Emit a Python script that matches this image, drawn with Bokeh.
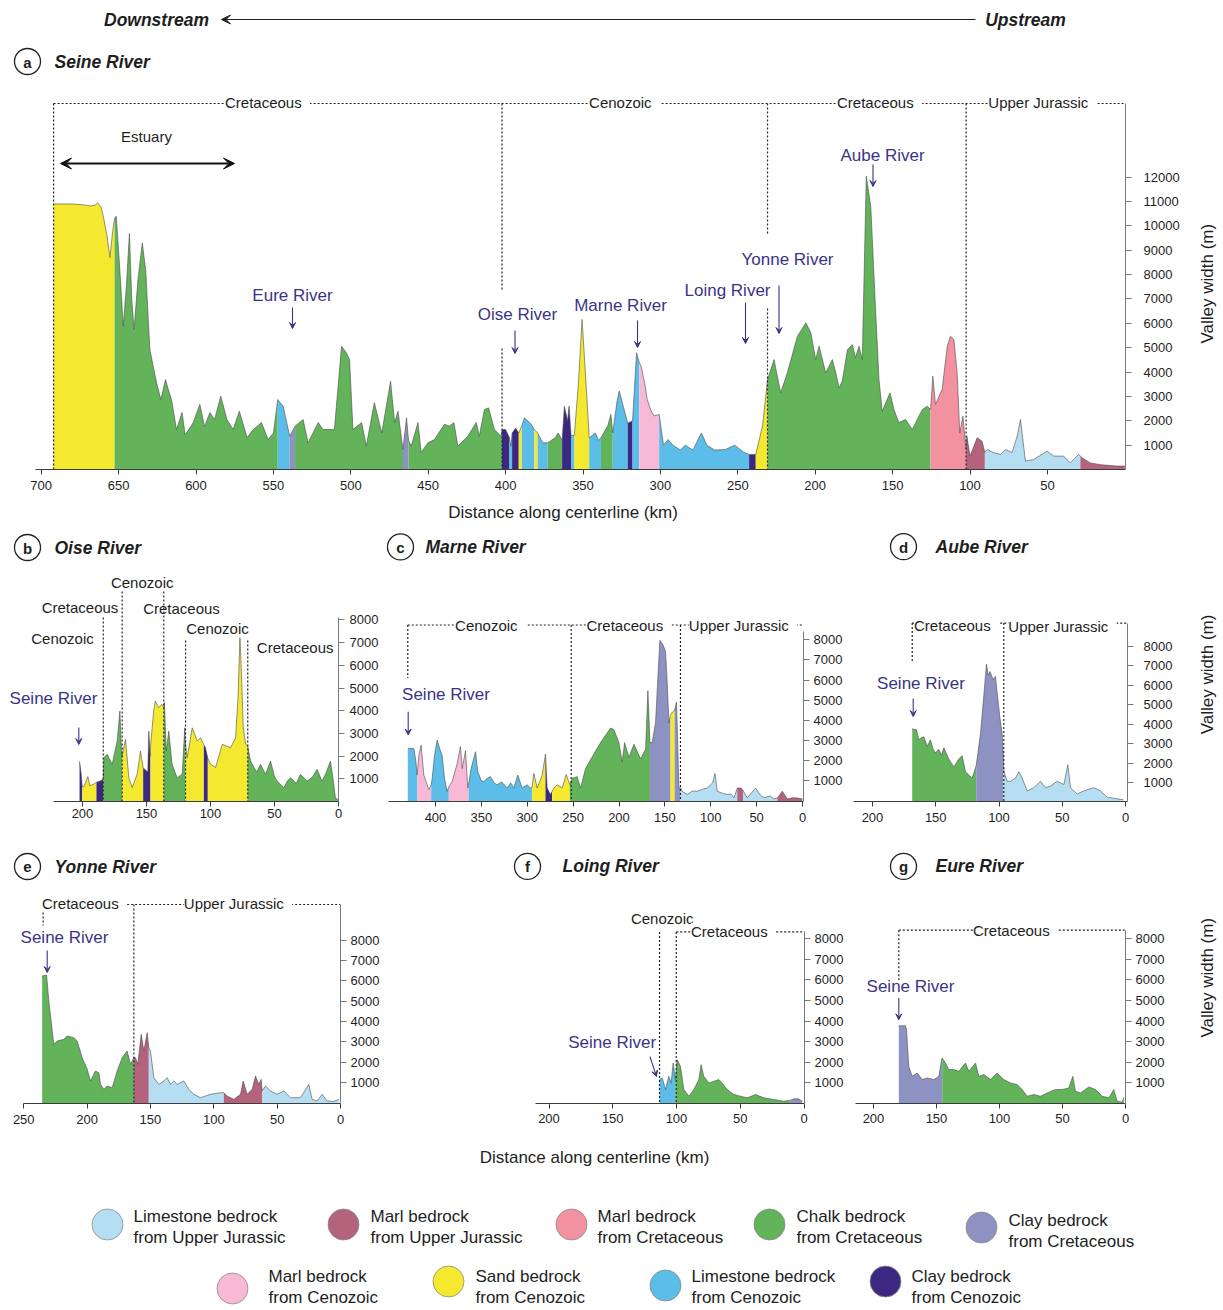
import numpy as np
from bokeh.plotting import figure
from bokeh.models import Range1d, FixedTicker, Label, Arrow, VeeHead, LinearAxis
from bokeh.layouts import column, row
from bokeh.embed import file_html
from bokeh.resources import INLINE

FONT = "Liberation Sans"
INK = "#1e1e1e"
RIVER_INK = "#3b3486"

# ---------------- bedrock classes / legend ----------------
rock_codes = ["LJ", "MJ", "MK", "CHK", "CLK", "MC", "SC", "LC", "CC"]
rock_colors = ["#b5def3", "#b3637b", "#f2919f", "#62b35a", "#8e92c2",
               "#f7b9d6", "#f5e92f", "#5bbde8", "#3b2881"]
legend_line1 = ["Limestone bedrock", "Marl bedrock", "Marl bedrock", "Chalk bedrock", "Clay bedrock",
                "Marl bedrock", "Sand bedrock", "Limestone bedrock", "Clay bedrock"]
legend_line2 = ["from Upper Jurassic", "from Upper Jurassic", "from Cretaceous", "from Cretaceous",
                "from Cretaceous", "from Cenozoic", "from Cenozoic", "from Cenozoic", "from Cenozoic"]
COLOR = dict(zip(rock_codes, rock_colors))

# ---------------- (a) Seine River ----------------
seine_km = [692.0, 680.0, 672.0, 668.0, 665.0, 663.5, 661.5, 659.9, 657.5, 655.6, 653.8, 652.6, 651.5, 649.0,
            647.0, 645.0, 643.0, 641.5, 640.0, 637.5, 634.7, 632.5, 629.8, 627.5, 625.5, 622.7, 619.7, 617.5,
            615.8, 612.6, 609.0, 607.0, 604.0, 601.8, 597.5, 594.5, 591.0, 588.0, 584.0, 580.0, 576.0, 572.0,
            567.0, 563.0, 557.7, 553.4, 550.0, 547.2, 543.7, 539.5, 536.0, 530.8, 527.6, 521.0, 518.0, 510.6,
            506.0, 503.0, 500.8, 498.6, 493.0, 490.0, 484.8, 480.0, 474.3, 471.7, 469.5, 466.3, 464.0, 462.7,
            461.0, 456.6, 454.5, 450.2, 446.0, 439.5, 436.3, 433.4, 430.8, 426.6, 424.4, 419.0, 417.0, 413.7,
            411.0, 407.2, 403.0, 402.3, 400.0, 397.5, 396.5, 395.8, 393.5, 391.5, 389.5, 387.8, 384.0, 381.4,
            379.3, 376.0, 372.8, 368.0, 366.0, 363.5, 362.0, 360.0, 359.0, 357.7, 355.6, 353.0, 350.6, 348.0,
            346.0, 342.0, 340.0, 338.4, 334.0, 332.0, 330.8, 328.0, 326.6, 324.0, 321.1, 318.0, 315.4, 313.7,
            312.5, 310.0, 308.5, 306.0, 304.0, 300.8, 298.0, 295.0, 292.0, 287.0, 284.0, 279.0, 273.5, 270.0,
            265.0, 258.0, 252.0, 246.0, 242.7, 238.4, 234.0, 230.8, 226.6, 222.3, 218.0, 211.5, 206.0, 202.8,
            199.7, 197.5, 193.2, 188.9, 186.7, 184.6, 182.5, 179.2, 176.0, 174.0, 171.7, 169.6, 167.0, 164.1,
            161.0, 158.8, 156.7, 151.7, 149.1, 146.0, 141.6, 137.3, 133.0, 130.8, 127.6, 125.5, 124.0, 122.3,
            118.0, 114.7, 112.6, 110.4, 108.3, 106.6, 104.6, 102.5, 102.0, 100.0, 95.4, 92.2, 90.4, 88.9,
            84.6, 80.3, 77.1, 72.8, 69.5, 67.4, 64.2, 58.8, 50.2, 45.9, 39.5, 35.2, 29.8, 27.6, 22.3, 15.8,
            5.0, 0.0]
seine_w = [10900, 10900, 10860, 10820, 10860, 10950, 10800, 10400, 9600, 8700, 9800, 10300, 10400, 8000,
           5880, 7500, 9690, 7000, 5750, 7800, 9300, 8200, 4925, 4200, 3570, 2870, 3695, 3200,
           2870, 1640, 2340, 1440, 1700, 1930, 2670, 1770, 2340, 2050, 3010, 2050, 1640, 2390,
           1310, 1640, 1930, 1230, 1500, 2870, 2600, 1370, 1780, 2050, 1100, 1930, 1640, 1640,
           5060, 4800, 4515, 1640, 1930, 960, 2740, 1500, 3625, 1930, 2390, 820, 2120, 1200,
           960, 1930, 700, 1100, 1230, 1860, 1780, 1930, 960, 1230, 1370, 1930, 1370, 2460,
           2530, 1640, 1370, 1640, 1640, 1300, 960, 1500, 1700, 1500, 1800, 2120, 1900, 1640,
           1500, 1100, 1100, 1300, 1500, 1200, 2600, 2000, 2600, 1400, 1400, 3500, 6160, 3500,
           1300, 1500, 1200, 1300, 1800, 2260, 1500, 2800, 3220, 2600, 1900, 2000, 4790, 4400,
           4240, 3500, 2870, 2400, 2200, 2260, 1000, 1230, 1000, 800, 1000, 800, 1500, 1000,
           800, 820, 1000, 700, 620, 620, 1800, 3690, 4515, 3150, 3970, 5470, 6020, 5610,
           4515, 5060, 3970, 4515, 3970, 3350, 3630, 4920, 5130, 4590, 5060, 4515, 12040, 10810,
           6570, 3700, 2390, 3150, 2460, 1930, 2050, 1640, 2190, 2460, 2600, 2460, 3830, 2670,
           3290, 5060, 5470, 5340, 3970, 1500, 2190, 820, 1370, 550, 1300, 1160, 700, 820,
           690, 620, 820, 700, 1370, 2050, 340, 410, 750, 550, 550, 270, 620, 480, 270, 200,
           140, 140]
seine_breaks = [692.0, 652.6, 547.2, 539.5, 536.0, 466.3, 462.7, 402.3, 397.5, 395.8, 391.5, 389.5, 381.4,
                379.3, 372.8, 363.5, 357.7, 355.6, 346.0, 338.4, 330.8, 321.1, 318.0, 313.7, 300.8, 242.7,
                238.4, 230.8, 125.5, 102.5, 90.4, 28.7, 0.0]
seine_rocks = ["SC", "CHK", "LC", "CLK", "CHK", "CLK", "CHK", "CC", "LC", "CC", "SC", "LC", "SC", "LC",
               "CHK", "CC", "LC", "SC", "LC", "CHK", "LC", "CC", "LC", "MC", "LC", "CC", "SC", "CHK",
               "MK", "MJ", "LJ", "MJ"]
seine_era_km = [692.0, 402.3, 230.8, 102.5]

# ---------------- (b) Oise River ----------------
oise_km = [202.3, 201.0, 200.2, 198.9, 195.8, 194.3, 191.7, 189.1, 186.3, 184.6, 183.8, 183.3, 180.7, 176.8,
           172.9, 170.8, 169.6, 169.0, 166.4, 163.8, 161.2, 157.3, 154.7, 152.6, 151.0, 149.0, 148.2, 147.2,
           146.9, 144.4, 143.1, 140.5, 137.9, 136.5, 136.0, 134.6, 132.6, 130.0, 126.1, 122.1, 120.1, 119.5,
           118.2, 114.3, 110.4, 107.8, 105.2, 103.9, 102.1, 99.9, 96.0, 90.8, 84.3, 80.4, 78.5, 77.0, 75.9,
           74.4, 72.5, 70.9, 68.7, 64.0, 60.9, 57.0, 53.1, 50.0, 47.9, 42.7, 40.0, 37.5, 33.0, 29.7, 24.5,
           20.0, 16.7, 13.0, 10.2, 6.3, 4.0, 2.4, 0.5]
oise_w = [1780, 1200, 650, 650, 1100, 700, 750, 850, 900, 950, 1000, 1930, 2080, 1640,
          2670, 3990, 2220, 2000, 2740, 1050, 610, 1200, 2220, 1490, 1400, 1300, 3100, 2000,
          2400, 3990, 4430, 4140, 4280, 4140, 4360, 2220, 3100, 1640, 1050, 1200, 3250, 2500,
          1930, 3250, 2670, 2810, 2500, 2370, 1900, 1640, 1500, 2520, 2370, 2810, 4580, 7220, 5760,
          3250, 2520, 2450, 1780, 1300, 1640, 1200, 1780, 1100, 900, 610, 900, 1050, 800, 1200, 900,
          1100, 1420, 900, 1200, 1780, 900, 140, 100]
oise_breaks = [202.3, 200.2, 189.1, 183.8, 169.0, 152.6, 146.9, 136.5, 119.5, 105.2, 102.1, 70.9, 0.5]
oise_rocks = ["CC", "SC", "CC", "CHK", "SC", "CC", "SC", "CHK", "SC", "CC", "SC", "CHK"]
oise_era_km = [183.8, 169.0, 136.5, 119.5, 70.9]

# ---------------- (c) Marne River ----------------
marne_km = [430.2, 423.6, 421.5, 420.0, 418.2, 415.7, 412.7, 407.3, 404.7, 403.6, 401.1, 398.2, 395.3, 392.7,
            390.2, 387.3, 385.5, 381.8, 376.4, 372.8, 370.9, 367.3, 364.8, 363.7, 361.2, 356.4, 353.9, 350.0,
            347.3, 343.0, 340.1, 336.0, 332.8, 328.0, 321.9, 318.0, 314.6, 310.3, 305.6, 300.1, 296.5, 294.7,
            292.8, 289.2, 283.8, 280.1, 278.3, 274.7, 271.0, 267.4, 261.9, 257.6, 253.6, 251.0, 245.6, 241.9,
            236.5, 227.4, 220.1, 209.2, 205.6, 200.1, 196.5, 193.9, 189.2, 183.7, 176.5, 171.0, 168.5, 166.3,
            163.8, 160.2, 157.6, 155.4, 151.8, 149.2, 147.4, 145.6, 143.8, 141.5, 139.4, 137.3, 134.7, 132.9,
            131.1, 125.6, 120.0, 114.7, 108.0, 103.8, 98.0, 95.4, 92.9, 88.0, 82.0, 78.0, 74.7, 71.0, 67.0,
            64.5, 60.2, 51.1, 46.0, 42.0, 35.0, 31.1, 27.4, 22.0, 16.5, 11.1, 5.0, 0.2]
marne_w = [2610, 2610, 2000, 1300, 2254, 2770, 1288, 564, 800, 1127, 2254, 3027, 2577, 2254,
           1127, 483, 700, 966, 1852, 2705, 1610, 2496, 644, 900, 1610, 2448, 1449, 1000,
           966, 1150, 1208, 900, 805, 950, 644, 900, 644, 1288, 644, 805, 644, 700,
           1369, 644, 1288, 2335, 644, 322, 644, 805, 644, 1320, 805, 1127, 1208, 644,
           1610, 2335, 2899, 3623, 3543, 2899, 1932, 2899, 2174, 2818, 2093, 2576, 5475, 2899,
           2899, 3865, 6119, 7971, 7729, 7407, 5797, 3865, 4300, 4428, 4500, 4911, 644, 644,
           483, 322, 500, 483, 600, 644, 900, 1369, 483, 400, 322, 350, 161, 644, 644,
           500, 161, 644, 300, 161, 250, 100, 150, 483, 100, 161, 150, 100]
marne_breaks = [430.2, 420.0, 404.7, 385.5, 363.9, 294.7, 280.1, 272.9, 253.6, 166.3, 143.8, 139.4, 133.0,
                71.1, 64.5, 27.4, 0.2]
marne_rocks = ["LC", "MC", "LC", "MC", "LC", "SC", "CC", "SC", "CHK", "CLK", "SC", "CLK", "LJ", "MJ", "LJ", "MJ"]
marne_era_km = [430.2, 252.1, 133.0]

# ---------------- (d) Aube River ----------------
aube_km = [168.6, 165.2, 163.4, 161.5, 159.4, 156.8, 154.2, 152.0, 150.2, 147.6, 145.5, 143.6, 139.7, 135.7,
           131.8, 129.1, 126.5, 121.2, 118.0, 117.3, 114.6, 112.0, 109.9, 108.5, 107.2, 104.6, 102.8, 101.5,
           99.3, 97.5, 96.7, 96.2, 93.5, 90.9, 87.0, 84.3, 81.7, 77.7, 72.5, 67.2, 63.2, 59.3, 54.0, 48.7,
           45.6, 43.5, 38.2, 32.9, 25.0, 19.8, 14.5, 6.6, 1.8]
aube_w = [3760, 3710, 3190, 3300, 3350, 2860, 3190, 2700, 2530, 2700, 2400, 2780, 2210, 1800,
          2210, 2370, 1550, 1225, 1880, 2210, 3513, 5474, 7075, 6500, 6699, 6291, 6454, 5637,
          4330, 3513, 2500, 1552, 1062, 1062, 1225, 1552, 1225, 572, 735, 1062, 735, 817, 1062, 899,
          1912, 735, 408, 572, 735, 572, 245, 163, 114]
aube_breaks = [168.6, 118.0, 96.7, 1.8]
aube_rocks = ["CHK", "CLK", "LJ"]
aube_era_km = [168.6, 96.2]

# ---------------- (e) Yonne River ----------------
yonne_km = [235.5, 232.0, 230.2, 226.3, 223.6, 218.4, 215.7, 210.5, 207.8, 203.9, 199.9, 197.3, 193.4, 190.7,
            189.4, 186.8, 184.2, 180.2, 176.3, 172.3, 168.4, 165.7, 163.1, 161.8, 160.0, 157.3, 155.2, 152.6,
            151.3, 150.0, 147.3, 143.4, 139.4, 136.8, 134.2, 131.5, 128.9, 123.7, 119.7, 115.8, 110.5, 102.6,
            94.7, 92.1, 89.5, 84.2, 78.9, 76.8, 73.7, 69.7, 67.1, 64.5, 62.6, 61.8, 59.2, 55.2, 50.0, 44.7,
            39.5, 31.6, 25.0, 22.4, 18.4, 14.5, 10.5, 5.3, 1.3]
yonne_w = [6244, 6293, 5015, 2884, 3048, 3130, 3294, 3212, 3048, 2229, 1655, 1082, 1573, 1491,
           918, 672, 836, 754, 1573, 2229, 2557, 1901, 2229, 2229, 1901, 3376, 2557, 3458,
           2721, 2557, 1246, 918, 1082, 1246, 918, 1082, 918, 1082, 672, 426, 262, 426,
           508, 500, 344, 180, 426, 1082, 426, 672, 1327, 918, 1163, 590, 836, 590, 426, 590,
           262, 262, 918, 180, 98, 426, 98, 80, 180]
yonne_breaks = [235.5, 163.1, 151.3, 92.1, 61.8, 1.3]
yonne_rocks = ["CHK", "MJ", "LJ", "MJ", "LJ"]
yonne_era_km = [234.7, 163.1]

# ---------------- (f) Loing River ----------------
loing_km = [113.3, 111.2, 108.6, 106.0, 104.2, 102.6, 100.8, 99.5, 96.9, 94.2, 90.3, 86.4, 82.5, 80.7, 78.6,
            74.6, 70.7, 66.8, 64.2, 60.3, 55.0, 49.8, 44.6, 38.0, 31.5, 23.7, 15.8, 10.6, 8.0, 4.1, 1.4]
loing_w = [1159, 1240, 676, 1320, 998, 1965, 1159, 2126, 1803, 676, 354, 676, 1159, 1884, 1320,
           998, 1079, 1159, 998, 676, 435, 354, 274, 435, 274, 193, 113, 161, 225, 225, 113]
loing_breaks = [113.3, 100.8, 10.6, 1.4]
loing_rocks = ["LC", "CHK", "CLK"]
loing_era_km = [113.3, 100.2]

# ---------------- (g) Eure River ----------------
eure_km = [179.9, 174.6, 173.8, 172.0, 169.3, 165.3, 161.4, 157.4, 152.1, 148.1, 146.0, 145.5, 142.9, 140.2,
           136.2, 132.3, 127.0, 124.3, 119.0, 116.4, 112.4, 107.1, 101.9, 96.6, 91.3, 86.0, 82.0, 78.0, 72.8,
           67.5, 62.2, 55.6, 50.3, 45.0, 41.8, 39.7, 35.7, 29.1, 23.8, 18.5, 13.2, 9.3, 6.6, 2.6, 1.3]
eure_w = [3768, 3768, 3575, 1803, 1320, 1481, 1159, 1240, 1159, 1320, 2126, 2206, 1965, 1643,
          1643, 1562, 1965, 1562, 1965, 1320, 1401, 1159, 1481, 1159, 998, 918, 676, 354, 435,
          354, 515, 676, 676, 757, 1320, 596, 515, 805, 676, 354, 274, 676, 113, 60, 300]
eure_breaks = [179.9, 145.5, 1.3]
eure_rocks = ["CLK", "CHK"]
eure_era_km = [179.9]

ticks_a_x = [700, 650, 600, 550, 500, 450, 400, 350, 300, 250, 200, 150, 100, 50]
ticks_a_y = [1000, 2000, 3000, 4000, 5000, 6000, 7000, 8000, 9000, 10000, 11000, 12000]
ticks_small_y = [1000, 2000, 3000, 4000, 5000, 6000, 7000, 8000]
ticks_200_x = [200, 150, 100, 50, 0]
ticks_250_x = [250, 200, 150, 100, 50, 0]
ticks_400_x = [400, 350, 300, 250, 200, 150, 100, 50, 0]


# ---------------- helpers ----------------
class Panel:
    """Maps picture pixels to data units of one panel (km reversed, width in m)."""
    def __init__(self, fig_box, frame_box, px0, ppk, py0, ppm):
        self.fig_box = fig_box
        self.frame = frame_box
        self.px0, self.ppk, self.py0, self.ppm = px0, ppk, py0, ppm

    def kx(self, px):
        return (self.px0 - px) / self.ppk

    def wy(self, py):
        return (self.py0 - py) / self.ppm


def make_fig(P, xticks, yticks, x_left_px, y_top_py, xstand, ystand, tick_font="13px"):
    X0, Y0, W, H = P.fig_box
    fl, ft, fr, fb = P.frame
    p = figure(width=W, height=H,
               x_range=Range1d(P.kx(fl), P.kx(fr)), y_range=Range1d(P.wy(fb), P.wy(ft)),
               output_backend="svg", toolbar_location=None, y_axis_location="right", title=None,
               min_border_left=fl - X0, min_border_top=ft - Y0,
               min_border_right=X0 + W - fr, min_border_bottom=Y0 + H - fb)
    p.xgrid.visible = False
    p.ygrid.visible = False
    p.outline_line_color = None
    p.background_fill_color = "white"
    p.border_fill_color = "white"
    xa = p.xaxis[0]
    xa.ticker = FixedTicker(ticks=xticks)
    xa.bounds = (P.kx(x_left_px), P.kx(fr))
    xa.axis_line_color = "#3c3c3c"
    xa.major_tick_line_color = "#3c3c3c"
    xa.major_tick_out = 5
    xa.major_tick_in = 0
    xa.minor_tick_line_color = None
    xa.major_label_text_font = FONT
    xa.major_label_text_font_size = tick_font
    xa.major_label_text_color = INK
    xa.major_label_standoff = xstand
    ya = p.yaxis[0]
    ya.ticker = FixedTicker(ticks=yticks)
    ya.bounds = (0, P.wy(y_top_py))
    ya.axis_line_color = "#7a7a7a"
    ya.major_tick_line_color = "#7a7a7a"
    ya.major_tick_out = 6
    ya.major_tick_in = 0
    ya.minor_tick_line_color = None
    ya.major_label_text_font = FONT
    ya.major_label_text_font_size = tick_font
    ya.major_label_text_color = INK
    ya.major_label_standoff = ystand
    return p


def add_x_title(p, P, txt, px_lo, px_hi, standoff):
    ax = LinearAxis(ticker=FixedTicker(ticks=[]), axis_label=txt, axis_label_standoff=standoff,
                    axis_label_text_font=FONT, axis_label_text_font_size="17px",
                    axis_label_text_font_style="normal", axis_label_text_color=INK,
                    axis_line_color=None, major_tick_line_color=None, minor_tick_line_color=None,
                    major_label_text_font_size="0px", major_tick_out=0, major_tick_in=0,
                    major_label_standoff=0)
    ax.bounds = (P.kx(px_lo), P.kx(px_hi))
    p.add_layout(ax, "below")


def strip(x0, y0, w, h, py_center, txt):
    s = figure(width=w, height=h, x_range=Range1d(x0, x0 + w), y_range=Range1d(y0 + h, y0),
               output_backend="svg", toolbar_location=None, x_axis_location=None, y_axis_location=None,
               min_border=0, title=None)
    for g in s.grid:
        g.visible = False
    s.outline_line_color = None
    s.add_layout(Label(x=1207, y=py_center, text=txt, angle=np.pi / 2, text_font=FONT,
                       text_font_size="17px", text_color=INK, text_align="center", text_baseline="middle"))
    return s


def draw_profile(p, km, w, breaks, rocks):
    km = np.asarray(km, float)
    w = np.asarray(w, float)
    order = np.argsort(km)
    ks, ws = km[order], w[order]
    for s, e, r in zip(breaks[:-1], breaks[1:], rocks):
        lo, hi = min(s, e), max(s, e)
        mask = (ks > lo) & (ks < hi)
        xs = np.concatenate([[lo], ks[mask], [hi]])
        ys = np.interp(xs, ks, ws)
        p.varea(x=xs, y1=np.zeros_like(xs), y2=ys, fill_color=COLOR[r], fill_alpha=1.0)
    p.line(km, w, line_color="#4a4a4a", line_width=0.7, line_alpha=0.85)


def vline(p, P, km, py_top, py_bot):
    p.segment(x0=[km], y0=[P.wy(py_top)], x1=[km], y1=[P.wy(py_bot)],
              line_color="#222222", line_width=1.2, line_dash="2 2")


def hline(p, P, km_left, px_right, py):
    p.segment(x0=[km_left], y0=[P.wy(py)], x1=[P.kx(px_right)], y1=[P.wy(py)],
              line_color="#222222", line_width=1.2, line_dash="2 2")


def text(p, P, px, py, txt, size="15px", color=INK, style="normal", align="center", bg=None, angle=0.0):
    lab = Label(x=P.kx(px), y=P.wy(py), text=txt, text_font=FONT, text_font_size=size,
                text_color=color, text_font_style=style, text_align=align, text_baseline="middle",
                angle=angle)
    if bg is not None:
        lab.background_fill_color = bg
    p.add_layout(lab)


def arrow(p, P, px1, py1, px2, py2, color=RIVER_INK, size=7, width=1.1, both=False):
    head = VeeHead(size=size, fill_color=color, line_color=color, line_width=1)
    kw = dict(x_start=P.kx(px1), y_start=P.wy(py1), x_end=P.kx(px2), y_end=P.wy(py2),
              end=head, line_color=color, line_width=width)
    if both:
        kw["start"] = VeeHead(size=size, fill_color=color, line_color=color, line_width=1)
    p.add_layout(Arrow(**kw))


def badge(p, P, px, py, letter, title, title_left):
    p.scatter(x=[P.kx(px)], y=[P.wy(py)], marker="circle", size=26, fill_color="white",
              line_color="#222222", line_width=1.3)
    text(p, P, px, py + 0.5, letter, size="15px", style="bold")
    text(p, P, title_left, py, title, size="17.5px", style="bold italic", align="left")


# ---------------- panel (a) ----------------
PA = Panel((0, 0, 1195, 530), (0, 0, 1125, 469), 1124.3, 1.548, 469, 0.02436)
pa = make_fig(PA, ticks_a_x, ticks_a_y, 35, 103, 6, 12)
draw_profile(pa, seine_km, seine_w, seine_breaks, seine_rocks)
hline(pa, PA, seine_era_km[0], 1125, 103)
vline(pa, PA, seine_era_km[0], 103, 469)
vline(pa, PA, seine_era_km[1], 103, 290)
vline(pa, PA, seine_era_km[1], 348, 469)
vline(pa, PA, seine_era_km[2], 103, 235)
vline(pa, PA, seine_era_km[2], 308, 469)
vline(pa, PA, seine_era_km[3], 103, 469)
for t, cx in [(" Cretaceous ", 267), (" Cenozoic ", 624), (" Cretaceous ", 879), (" Upper Jurassic ", 1042)]:
    text(pa, PA, cx, 102, t, bg="white")
text(pa, PA, 156, 19, "Downstream", size="17.5px", style="bold italic")
text(pa, PA, 1025, 19, "Upstream", size="17.5px", style="bold italic")
arrow(pa, PA, 975, 19, 221, 19, color="#222222", size=9, width=1.1)
badge(pa, PA, 27, 61, "a", "Seine River", 54)
text(pa, PA, 146, 136, "Estuary")
arrow(pa, PA, 60, 163, 234, 163, color="#111111", size=11, width=1.8, both=True)
for t, cx, cy, ax, ay1, ay2 in [("Eure River", 292, 295, 292, 307, 328),
                                 ("Oise River", 517, 314, 514.5, 330, 353),
                                 ("Marne River", 620, 305, 637, 320, 347),
                                 ("Loing River", 727, 290, 745, 302, 343),
                                 ("Yonne River", 787, 259, 778.5, 285, 333),
                                 ("Aube River", 882, 155, 872.5, 164, 186)]:
    text(pa, PA, cx, cy, t, size="17px", color=RIVER_INK)
    arrow(pa, PA, ax, ay1, ax, ay2, size=6)
add_x_title(pa, PA, "Distance along centerline (km)", 35, 1103, 10)
sa = strip(1195, 0, 28, 530, 320, "Valley width (m)")

# ---------------- panel (b) ----------------
PB = Panel((0, 530, 384, 320), (0, 530, 338, 801), 338, 1.28, 801, 0.0227)
pb = make_fig(PB, ticks_200_x, ticks_small_y, 53, 617, 2, 5)
draw_profile(pb, oise_km, oise_w, oise_breaks, oise_rocks)
for k, top in zip(oise_era_km, [617, 591, 591, 640, 640]):
    vline(pb, PB, k, top, 801)
for t, cx, cy in [("Cenozoic", 62, 638), ("Cretaceous", 79.5, 607), ("Cenozoic", 141.7, 582),
                  ("Cretaceous", 181, 608), ("Cenozoic", 217, 628), ("Cretaceous", 294.7, 647)]:
    text(pb, PB, cx, cy, t)
badge(pb, PB, 27, 547, "b", "Oise River", 54)
text(pb, PB, 53, 698, "Seine River", size="17px", color=RIVER_INK)
arrow(pb, PB, 78.3, 727, 78.3, 744, size=6)

# ---------------- panel (c) ----------------
PC = Panel((384, 530, 464, 320), (384, 530, 803, 811), 802, 0.9175, 810.5, 0.0209)
pc = make_fig(PC, ticks_400_x, ticks_small_y, 388, 635, 6, 4)
draw_profile(pc, marne_km, marne_w, marne_breaks, marne_rocks)
hline(pc, PC, marne_era_km[0], 803, 628)
vline(pc, PC, marne_era_km[0], 628, 683)
vline(pc, PC, marne_era_km[1], 628, 811)
vline(pc, PC, marne_era_km[2], 628, 811)
for t, cx in [(" Cenozoic ", 490), (" Cretaceous ", 628.5), (" Upper Jurassic ", 742.5)]:
    text(pc, PC, cx, 628, t, bg="white")
badge(pc, PC, 400, 547, "c", "Marne River", 425)
text(pc, PC, 445.5, 700, "Seine River", size="17px", color=RIVER_INK)
arrow(pc, PC, 407.7, 718, 407.7, 742, size=6)

# ---------------- panel (d) ----------------
PD = Panel((848, 530, 347, 320), (848, 530, 1127, 814), 1125, 1.265, 814.5, 0.0204)
pd = make_fig(PD, ticks_200_x, ticks_small_y, 853, 627, 6, 10)
draw_profile(pd, aube_km, aube_w, aube_breaks, aube_rocks)
hline(pd, PD, aube_era_km[0], 1127, 627)
vline(pd, PD, aube_era_km[0], 627, 667)
vline(pd, PD, aube_era_km[1], 627, 814)
text(pd, PD, 956, 630, " Cretaceous ", bg="white")
text(pd, PD, 1062, 630.5, " Upper Jurassic ", bg="white")
badge(pd, PD, 903, 547, "d", "Aube River", 935)
text(pd, PD, 920.5, 690, "Seine River", size="17px", color=RIVER_INK)
arrow(pd, PD, 912.7, 706, 912.7, 725, size=6)
sd = strip(1195, 530, 28, 320, 700, "Valley width (m)")

# ---------------- panel (e) ----------------
PE = Panel((0, 850, 384, 322), (0, 850, 340, 1103), 340, 1.267, 1102.5, 0.02034)
pe = make_fig(PE, ticks_250_x, ticks_small_y, 23, 904, 6, 4)
draw_profile(pe, yonne_km, yonne_w, yonne_breaks, yonne_rocks)
hline(pe, PE, yonne_era_km[0], 340, 904)
vline(pe, PE, yonne_era_km[0], 904, 925)
vline(pe, PE, yonne_era_km[1], 904, 1103)
text(pe, PE, 84, 903, " Cretaceous ", bg="white")
text(pe, PE, 237.5, 903, " Upper Jurassic ", bg="white")
badge(pe, PE, 27, 866, "e", "Yonne River", 54)
text(pe, PE, 64, 937, "Seine River", size="17px", color=RIVER_INK)
arrow(pe, PE, 46.7, 950, 46.7, 972, size=6)

# ---------------- panel (f) ----------------
PF = Panel((384, 850, 464, 322), (384, 850, 804, 1104), 803.5, 1.275, 1104, 0.0207)
pf = make_fig(PF, ticks_200_x, ticks_small_y, 535, 931.7, 5, 4)
draw_profile(pf, loing_km, loing_w, loing_breaks, loing_rocks)
hline(pf, PF, loing_era_km[1], 804, 931.7)
vline(pf, PF, loing_era_km[0], 931.7, 1104)
vline(pf, PF, loing_era_km[1], 931.7, 1104)
text(pf, PF, 661.7, 918, "Cenozoic")
text(pf, PF, 733, 931, " Cretaceous ", bg="white")
badge(pf, PF, 527, 866, "f", "Loing River", 562)
text(pf, PF, 611.7, 1043, "Seine River", size="17px", color=RIVER_INK)
arrow(pf, PF, 649.5, 1057, 656, 1077, size=6)
add_x_title(pf, PF, "Distance along centerline (km)", 384, 754, 22)

# ---------------- panel (g) ----------------
PG = Panel((848, 850, 347, 322), (848, 850, 1125, 1104), 1125, 1.26, 1104, 0.0207)
pg = make_fig(PG, ticks_200_x, ticks_small_y, 855, 930, 5, 4)
draw_profile(pg, eure_km, eure_w, eure_breaks, eure_rocks)
hline(pg, PG, eure_era_km[0], 1125, 930)
vline(pg, PG, eure_era_km[0], 930, 980)
text(pg, PG, 1015, 930, " Cretaceous ", bg="white")
badge(pg, PG, 903, 866, "g", "Eure River", 935)
text(pg, PG, 910, 987, "Seine River", size="17px", color=RIVER_INK)
arrow(pg, PG, 898.3, 998, 898.3, 1020, size=6)
sg = strip(1195, 850, 28, 322, 1012, "Valley width (m)")

# ---------------- legend ----------------
pl = figure(width=1223, height=136, x_range=Range1d(0, 1223), y_range=Range1d(1308, 1172),
            output_backend="svg", toolbar_location=None, x_axis_location=None, y_axis_location=None,
            min_border=0, title=None)
for g in pl.grid:
    g.visible = False
pl.outline_line_color = None
leg_cx = [107, 343, 571, 769, 981, 232, 448, 665, 885]
leg_cy = [1224, 1224, 1224, 1224, 1227, 1288, 1281, 1285, 1281]
leg_tx = [133, 370, 597, 796, 1008, 268, 475, 691, 911]
leg_ty = [1216, 1216, 1216, 1216, 1220, 1276, 1276, 1276, 1276]
pl.scatter(x=leg_cx, y=leg_cy, marker="circle", size=31, fill_color=rock_colors,
           line_color="#8a8a8a", line_width=0.8)
for i in range(len(rock_codes)):
    for j, t in enumerate([legend_line1[i], legend_line2[i]]):
        pl.add_layout(Label(x=leg_tx[i], y=leg_ty[i] + 21 * j, text=t, text_font=FONT,
                            text_font_size="17px", text_color=INK, text_align="left",
                            text_baseline="middle"))

layout = column(row(pa, sa), row(pb, pc, pd, sd), row(pe, pf, pg, sg), pl)
open("out.html", "w").write(file_html(layout, INLINE))
